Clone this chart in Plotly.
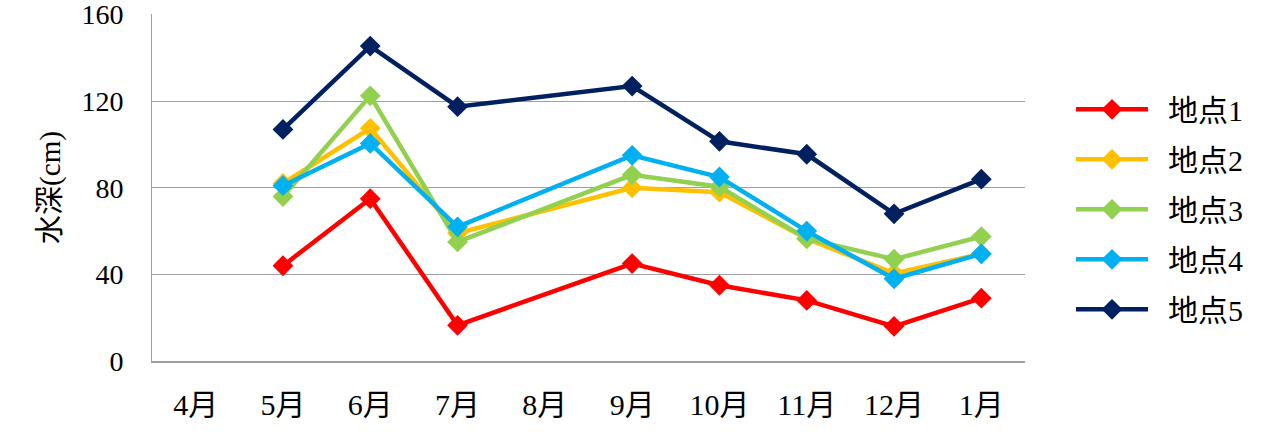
import plotly.graph_objects as go

months = ["4月", "5月", "6月", "7月", "8月", "9月", "10月", "11月", "12月", "1月"]
site1 = [None, 44, 75, 16.5, None, 45, 35, 28, 16, 29]
site2 = [None, 82, 107.5, 59, None, 80, 78, 56.5, 40.5, 49.5]
site3 = [None, 76, 122.5, 55, None, 86, 80.5, 56.5, 47, 57.5]
site4 = [None, 81, 100.5, 62, None, 95, 85, 60, 38, 49.5]
site5 = [None, 107, 145.5, 117.5, None, 127, 101.5, 95.5, 68, 84]
names = ["地点1", "地点2", "地点3", "地点4", "地点5"]
colors = ["#FF0000", "#FFC000", "#92D050", "#00B0F0", "#002060"]
series = [site1, site2, site3, site4, site5]
yticks = [0, 40, 80, 120, 160]

font_family = "Liberation Serif, Noto Sans CJK JP, serif"

fig = go.Figure()
for i, (nm, col, vals) in enumerate(zip(names, colors, series)):
    fig.add_trace(go.Scatter(
        x=months, y=vals, name="\u00a0\u00a0" + nm, mode="lines+markers",
        connectgaps=True, legendgroup=nm,
        line=dict(color=col, width=4.5),
        marker=dict(symbol="diamond", size=16, color=col),
    ))

fig.update_layout(
    width=1281, height=438,
    margin=dict(l=152, r=256, t=14, b=77),
    paper_bgcolor="white", plot_bgcolor="white",
    font=dict(family=font_family, size=22, color="#000000"),
    showlegend=True,
    legend=dict(
        x=1.0527, y=0.437, xanchor="left", yanchor="middle",
        font=dict(size=30, family=font_family),
        tracegroupgap=8, itemwidth=72,
        bgcolor="rgba(0,0,0,0)",
    ),
    xaxis=dict(
        categoryorder="array", categoryarray=months,
        type="category", range=[-0.5, 9.5], automargin=False,
        showgrid=False, showline=True, linecolor="#A0A0A0", linewidth=2,
        ticks="", tickfont=dict(size=30), ticklabelstandoff=16,
        ticklabeloverflow="allow",
    ),
    yaxis=dict(
        range=[0, 160.3], tickvals=yticks, automargin=False,
        showgrid=True, gridcolor="#A0A0A0", gridwidth=1,
        showline=True, linecolor="#A0A0A0", linewidth=1,
        zeroline=False, ticks="", tickfont=dict(size=28),
        ticklabelstandoff=22, ticklabeloverflow="allow",
        title=dict(text="水深(cm)", font=dict(size=29), standoff=12),
    ),
)

fig.write_html("out.html")
